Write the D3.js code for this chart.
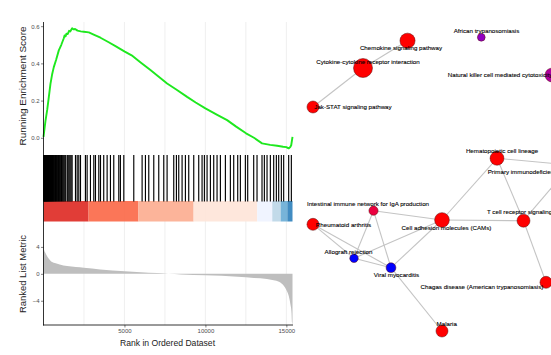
<!DOCTYPE html>
<html><head><meta charset="utf-8">
<script src="https://cdn.jsdelivr.net/npm/d3@7"></script>
<style>
body{margin:0;background:#fff}
svg{display:block;font-family:"Liberation Sans",Arial,Helvetica,sans-serif}
</style>
</head><body>
<svg id="chart" width="551" height="355"></svg>
<script>
// ---------- GSEA data ----------
const nGenes = 15380;

// running enrichment score along the ranked list
const esRank  = [0,120,228,330,430,530,636,780,945,1100,1253,1300,1360,1420,1500,1580,1650,1770,1850,1950,2100,2300,2490,2800,3100,3520,4000,4500,5020,5500,6000,6605,7100,7635,8200,8870,9400,10000,10700,11340,11900,12510,13000,13500,14000,14430,14800,15000,15140,15240,15300,15380];
const esValue = [0.005,0.09,0.15,0.22,0.29,0.34,0.38,0.42,0.47,0.50,0.535,0.55,0.545,0.56,0.558,0.575,0.572,0.589,0.583,0.585,0.576,0.572,0.570,0.567,0.555,0.538,0.515,0.49,0.463,0.44,0.405,0.364,0.33,0.292,0.26,0.22,0.19,0.158,0.125,0.095,0.06,0.024,0.0,-0.03,-0.038,-0.043,-0.048,-0.05,-0.057,-0.05,-0.04,0.005];

// ranks of the gene-set members
const hitRank = [8,25,47,66,90,112,135,158,176,201,226,248,275,301,327,352,380,409,437,468,496,528,560,593,627,660,698,735,770,812,851,893,934,978,1021,1066,1112,1160,1212,1262,1318,1372,1468,1520,1581,1642,1705,1768,1975,2080,2180,2285,2590,2695,2900,3107,3210,3415,3520,3720,3930,4135,4340,4650,4750,4960,5576,6091,6296,6502,6811,7119,7428,7634,8045,8210,8354,8560,8765,8971,9280,9588,9794,9938,10103,10309,10514,10720,10926,11235,11543,11749,11996,12160,12469,12613,12983,13189,13497,13642,13807,14012,14218,14383,14527,14691,14835,15144,15309];

// ranked list metric
const metricRank  = [0,30,120,250,430,700,1000,1460,2000,2490,3500,5020,6000,7000,7700,8500,10000,11000,12000,13000,13800,14300,14630,14850,15040,15150,15250,15320,15350,15380];
const metricValue = [4.3,3.6,3.1,2.5,1.95,1.6,1.4,1.15,1.0,0.9,0.65,0.4,0.25,0.12,0.02,-0.08,-0.2,-0.3,-0.45,-0.6,-0.75,-1.0,-1.3,-1.8,-2.6,-3.3,-4.5,-5.8,-7.2,-7.5];

// colour strip segments along the ranked list
const stripBreaks = [0,2780,5860,9270,13200,14130,14650,15060,15380];
const stripColors = ["#DE2D26","#FB6A4A","#FCAE91","#FEE5D9","#EFF3FF","#BDD7E7","#6BAED6","#3182BD"];

const esTicks = [0,0.2,0.4,0.6];
const metricTicks = [-4,0,4];
const rankTicks = [5000,10000,15000];
const gridRanks = [2500,5000,7500,10000,12500,15000];

// ---------- pathway network data ----------
const pathways = ["Chemokine signaling pathway","Cytokine-cytokine receptor interaction","Jak-STAT signaling pathway","African trypanosomiasis","Natural killer cell mediated cytotoxicity","Hematopoietic cell lineage","Primary immunodeficiency","Intestinal immune network for IgA production","Rheumatoid arthritis","Cell adhesion molecules (CAMs)","T cell receptor signaling pathway","Allograft rejection","Viral myocarditis","Chagas disease (American trypanosomiasis)","Malaria"];
const geneCount = [19,30,12,5,16,16,12,7,12,18,14,6,8,12,12];
const pAdjust   = [0.001,0.001,0.001,0.0378,0.0304,0.001,0.001,0.0098,0.001,0.001,0.001,0.05,0.05,0.001,0.001];
const edges = [[0,1],[1,2],[5,9],[5,10],[5,6],[10,6],[10,13],[9,10],[9,7],[9,11],[9,12],[7,11],[7,12],[8,11],[8,12],[11,12],[12,14]];

// graph layout (unit square) and label placement
const layoutX = [0.384,0.225,0.0464,0.6475,0.9,0.7036,0.9679,0.2625,0.0464,0.5071,0.7982,0.1929,0.325,0.8786,0.5071];
const layoutY = [0.0345,0.1226,0.2484,0.0235,0.1452,0.4139,0.4355,0.5829,0.6268,0.6129,0.6152,0.7365,0.7668,0.8139,0.971];
const labelDX = [-6.5,5,40,5.2,-52,5,-47,-5.5,30.5,4.5,8.5,-5.5,5.5,-64,4.7];
const labelDY = [7.6,-6.3,0.3,-6.3,0,-7.6,6.7,-6.7,0.7,7.7,-8.4,-6,7.3,4.4,-6.7];

// ---------- drawing ----------
const svg = d3.select("#chart");
svg.append("rect").attr("width",551).attr("height",355).attr("fill","#fff");

const x = d3.scaleLinear().domain([0,nGenes]).range([43.5,292.5]);
const yES = d3.scaleLinear().domain([-0.0925,0.6225]).range([155,22]);
const yM = d3.scaleLinear().domain([-7.6,7.7]).range([325,222]);

const gsea = svg.append("g");

// vertical grid
gsea.append("g").selectAll("line").data(gridRanks).join("line")
  .attr("x1",d=>x(d)).attr("x2",d=>x(d)).attr("y1",22).attr("y2",325)
  .attr("stroke","#ebebeb").attr("stroke-width",0.8);

// ranked list metric area
gsea.append("path")
  .datum(metricRank.map((r,i)=>[r,metricValue[i]]))
  .attr("fill","#bebebe")
  .attr("d", d3.area().x(d=>x(d[0])).y0(yM(0)).y1(d=>yM(d[1])).curve(d3.curveMonotoneX));

// colour strip
gsea.append("g").selectAll("rect").data(stripColors).join("rect")
  .attr("x",(d,i)=>x(stripBreaks[i])).attr("width",(d,i)=>x(stripBreaks[i+1])-x(stripBreaks[i]))
  .attr("y",201).attr("height",20.5).attr("fill",d=>d).attr("opacity",0.92);

// barcode
gsea.append("g").selectAll("line").data(hitRank).join("line")
  .attr("x1",d=>x(d)).attr("x2",d=>x(d)).attr("y1",155).attr("y2",201.5)
  .attr("stroke","#000").attr("stroke-width",1.15);

// running enrichment score
gsea.append("path")
  .datum(esRank.map((r,i)=>[r,esValue[i]]))
  .attr("fill","none").attr("stroke","#1ee81e").attr("stroke-width",1.9)
  .attr("stroke-linejoin","round")
  .attr("d", d3.line().x(d=>x(d[0])).y(d=>yES(d[1])));

// axes
function styleAxis(g){
  g.select(".domain").remove();
  g.selectAll(".tick line").attr("stroke","#333").attr("stroke-width",0.6);
  g.selectAll(".tick text").attr("fill","#4d4d4d").attr("font-size","6px");
}
gsea.append("g").attr("transform","translate(43.5,0)")
  .call(d3.axisLeft(yES).tickValues(esTicks).tickFormat(d3.format(".1f")).tickSize(2.5).tickPadding(1.5))
  .call(styleAxis);
gsea.append("g").attr("transform","translate(43.5,0)")
  .call(d3.axisLeft(yM).tickValues(metricTicks).tickFormat(d3.format("d")).tickSize(2.5).tickPadding(1.5))
  .call(styleAxis);
gsea.append("g").attr("transform","translate(0,325)")
  .call(d3.axisBottom(x).tickValues(rankTicks).tickFormat(d3.format("d")).tickSize(2.5).tickPadding(1.5))
  .call(styleAxis);

gsea.append("line").attr("x1",43.5).attr("x2",43.5).attr("y1",22).attr("y2",325.5)
  .attr("stroke","#000").attr("stroke-width",0.8);
gsea.append("line").attr("x1",43.1).attr("x2",293).attr("y1",325).attr("y2",325)
  .attr("stroke","#000").attr("stroke-width",0.8);

// axis titles
gsea.append("text").attr("transform","translate(26,86) rotate(-90)")
  .attr("text-anchor","middle").attr("font-size","9px").attr("fill","#222")
  .attr("textLength",119).attr("lengthAdjust","spacingAndGlyphs")
  .text("Running Enrichment Score");
gsea.append("text").attr("transform","translate(26,274) rotate(-90)")
  .attr("text-anchor","middle").attr("font-size","9px").attr("fill","#222")
  .attr("textLength",78).attr("lengthAdjust","spacingAndGlyphs")
  .text("Ranked List Metric");
gsea.append("text").attr("x",167.5).attr("y",346)
  .attr("text-anchor","middle").attr("font-size","8.6px").attr("fill","#222")
  .text("Rank in Ordered Dataset");

// ---------- network ----------
const nx = d3.scaleLinear().domain([0,1]).range([300,580]);
const ny = d3.scaleLinear().domain([0,1]).range([30,340]);
const rScale = d3.scaleSqrt().domain([0,30]).range([0,9.5]);
const colour = d3.scaleLinear().domain([0.001,0.05]).range(["#ff0000","#0000ff"]).interpolate(d3.interpolateLab);

const nodes = pathways.map((name,i)=>({name, x:nx(layoutX[i]), y:ny(layoutY[i]), r:rScale(geneCount[i]), c:colour(pAdjust[i]), dx:labelDX[i], dy:labelDY[i]}));

const net = svg.append("g");
net.append("g").selectAll("line").data(edges).join("line")
  .attr("x1",d=>nodes[d[0]].x).attr("y1",d=>nodes[d[0]].y)
  .attr("x2",d=>nodes[d[1]].x).attr("y2",d=>nodes[d[1]].y)
  .attr("stroke","#c4c4c4").attr("stroke-width",1.1);

net.append("g").selectAll("circle").data(nodes).join("circle")
  .attr("cx",d=>d.x).attr("cy",d=>d.y).attr("r",d=>d.r)
  .attr("fill",d=>d.c).attr("stroke","#5a1010").attr("stroke-width",0.5);

net.append("g").selectAll("text").data(nodes).join("text")
  .attr("x",d=>d.x+d.dx).attr("y",d=>d.y+d.dy).attr("dy","0.35em")
  .attr("text-anchor","middle").attr("font-size","6.2px").attr("fill","#000")
  .attr("stroke","#000").attr("stroke-width",0.1)
  .text(d=>d.name);
</script>
</body></html>
